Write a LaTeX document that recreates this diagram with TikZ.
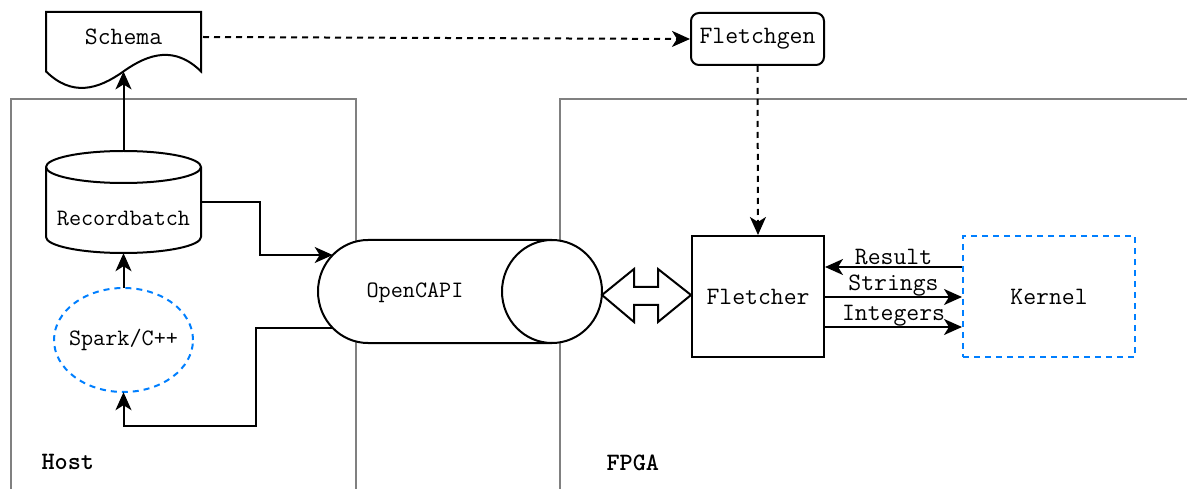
\documentclass[tikz,border=0pt]{standalone}
\usepackage{fontspec}
\usetikzlibrary{arrows.meta,shapes.geometric}
\definecolor{boxgray}{RGB}{128,128,128}
\definecolor{dioblue}{RGB}{0,127,255}
\tikzset{
  ln/.style={line width=2pt, black},
  arr/.style={ln, -{Stealth[length=18pt,width=16pt,inset=5pt]}},
  darr/.style={arr, dash pattern=on 6pt off 5pt},
  grayframe/.style={line width=1.5pt, boxgray},
  bluedash/.style={line width=2pt, dioblue, dash pattern=on 6pt off 5pt},
  txt/.style={font=\ttfamily\fontsize{25}{27}\selectfont, text=black},
  txts/.style={font=\ttfamily\fontsize{23.5}{25}\selectfont, text=black},
  lbl/.style={font=\ttfamily\fontsize{25}{27}\selectfont\bfseries, text=black},
  hold/.style={draw=none, inner sep=0pt},
}
\begin{document}
\begin{tikzpicture}[x=1pt,y=-1pt]
\useasboundingbox (0,0) rectangle (1187,489);
% frames
\draw[grayframe] (11,489) -- (11,99) -- (356,99) -- (356,489);
\draw[grayframe] (560,489) -- (560,99) -- (1187,99);
\node[lbl, anchor=west] (hostlbl) at (38,462) {Host};
\node[lbl, anchor=west] (fpgalbl) at (603,463) {FPGA};

% Schema document shape
\draw[ln, fill=white] (46,12) -- (201,12) -- (201,71.4)
  .. controls (175.2,46) and (149.3,53) .. (123.5,71.4)
  .. controls (97.7,89.8) and (71.8,96.8) .. (46,71.4) -- cycle;
\node[txt, hold] (schema) at (123.5,37) {Schema};
\coordinate (schemabot) at (123.5,71.4);
\coordinate (schemaeast) at (203,37);

% Fletchgen
\node[txt, draw, ln, rounded corners=8pt, minimum width=133pt, minimum height=52pt, inner sep=0pt] (fletchgen) at (757.5,39) {Fletchgen};

% Recordbatch cylinder
\draw[ln, fill=white] (46,167) -- (46,237)
  arc[start angle=180,end angle=360,x radius=77.5pt,y radius=16pt] -- (201,167)
  arc[start angle=0,end angle=180,x radius=77.5pt,y radius=16pt] -- cycle;
\draw[ln] (46,167) arc[start angle=180,end angle=360,x radius=77.5pt,y radius=16pt];
\node[hold, minimum width=155pt, minimum height=102pt] (rb) at (123.5,202) {};
\node[txts, hold] (rbtext) at (123.5,218) {Recordbatch};

% Spark ellipse
\draw[bluedash] (123.5,340) ellipse[x radius=69.5pt, y radius=52pt];
\node[txts, hold, minimum width=139pt, minimum height=104pt] (spark) at (123.5,340) {Spark/C++};

% OpenCAPI horizontal cylinder
\draw[ln, fill=white] (368,240) -- (552,240)
  arc[start angle=90,end angle=-90,x radius=50pt,y radius=51.5pt] -- (368,343)
  arc[start angle=270,end angle=90,x radius=50pt,y radius=51.5pt] -- cycle;
\draw[ln] (552,240) arc[start angle=90,end angle=270,x radius=50pt,y radius=51.5pt];
\node[hold, minimum width=284pt, minimum height=103pt] (oc) at (460,291.5) {};
\node[txts, hold] (octext) at (415,293) {OpenCAPI};
\coordinate (ocin) at (332.7,255);
\coordinate (ocout) at (332.7,328);

% Fletcher and Kernel
\node[txt, draw, ln, minimum width=132pt, minimum height=121pt, inner sep=0pt] (fletcher) at (758,296.5) {Fletcher};
\node[txt, draw, bluedash, minimum width=172pt, minimum height=121pt, inner sep=0pt] (kernel) at (1049,296.5) {\textcolor{black}{Kernel}};

% double block arrow
\draw[ln, fill=white, line join=miter] (602,295) -- (634,269) -- (634,287) -- (658,287) -- (658,269) -- (691,295)
  -- (658,322) -- (658,305) -- (634,305) -- (634,322) -- cycle;

% connectors
\draw[darr] (schemaeast) -- (fletchgen.west);
\draw[darr] (fletchgen.south) -- (fletcher.north);
\draw[arr] (rb.north) -- (schemabot);
\draw[arr] (spark.north) -- (rb.south);
\draw[arr] (rb.east |- 0,202) -- (260,202) -- (260,255) -- (ocin);
\draw[arr] (ocout) -- (256,328) -- (256,426) -- (123.5,426) -- (spark.south);

\draw[arr] (kernel.west |- 0,267) -- node[txt, above, inner sep=1pt] (reslbl) {Result} (fletcher.east |- 0,267);
\draw[arr] (fletcher.east |- 0,297) -- node[txt, above, inner sep=0pt] (strlbl) {Strings} (kernel.west |- 0,297);
\draw[arr] (fletcher.east |- 0,327) -- node[txt, above, inner sep=0pt] (intlbl) {Integers} (kernel.west |- 0,327);
\end{tikzpicture}
\end{document}
